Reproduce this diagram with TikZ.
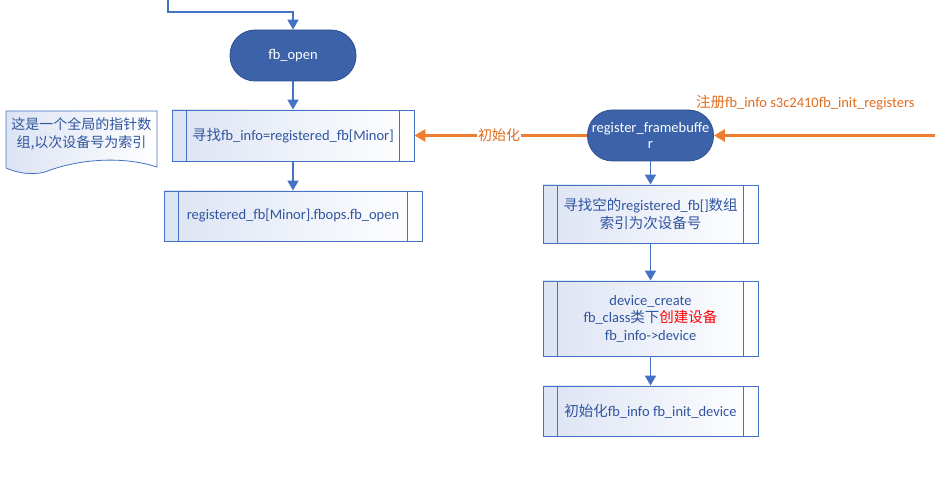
\documentclass[tikz,border=0pt]{standalone}
\usepackage{fontspec}
\setmainfont{Carlito}
\newfontfamily\cjk{Noto Sans CJK SC}
\usetikzlibrary{arrows.meta,calc}
\definecolor{boxblue}{HTML}{4472C4}
\definecolor{termblue}{HTML}{3C62AA}
\definecolor{termedge}{HTML}{2F4F8F}
\definecolor{txtblue}{HTML}{2F55A0}
\definecolor{shadeblue}{HTML}{DCE3F3}
\definecolor{orng}{HTML}{ED7D31}
\definecolor{orngtxt}{HTML}{E06C1C}
\newcommand{\fs}{\fontsize{14.5}{17.5}\selectfont}
\tikzset{
  proc/.style={draw=boxblue, line width=0.9pt, left color=shadeblue, right color=white,
    rectangle, text=txtblue, align=center, inner sep=0pt, font=\fs},
  term/.style={draw=termedge, line width=0.8pt, fill=termblue, rounded corners=25pt,
    text=white, align=center, inner sep=0pt, minimum width=126pt, minimum height=51pt,
    font=\fs},
  flow/.style={draw=boxblue, line width=1.8pt, -{Triangle[width=11pt,length=10pt]}},
  oflow/.style={draw=orng, line width=2.8pt, -{Triangle[width=12pt,length=11pt]}},
  inner/.style={draw=boxblue, line width=0.9pt}
}
\begin{document}
\begin{tikzpicture}[x=1pt,y=-1pt]
\useasboundingbox (0,0) rectangle (935,502);

% terminals
\node[term] (open) at (293,55.5) {fb\_open};
\node[term] (reg) at (650.5,135.5) {register\_framebuffe\\[-1pt]r};

% left column boxes
\node[proc, minimum width=242pt, minimum height=51pt] (find) at (293,135.5)
  {{\cjk 寻找}fb\_info=registered\_fb[Minor]};
\node[proc, minimum width=258pt, minimum height=50pt] (fbopen) at (293,216)
  {registered\_fb[Minor].fbops.fb\_open};

% right column boxes
\node[proc, minimum width=215pt, minimum height=58pt] (empty) at (650.5,214)
  {{\cjk 寻找空的}registered\_fb[]{\cjk 数组}\\[1pt]{\cjk 索引为次设备号}};
\node[proc, minimum width=215pt, minimum height=75pt] (create) at (650.5,318.5)
  {device\_create\\fb\_class{\cjk 类下}{\cjk\color{red}创建设备}\\fb\_info->device};
\node[proc, minimum width=215pt, minimum height=50pt] (init) at (650.5,411)
  {{\cjk 初始化}fb\_info fb\_init\_device};

% inner vertical lines
\foreach \n/\d in {find/15, fbopen/15, empty/15, create/15, init/15}{
  \draw[inner] ([xshift=\d pt]\n.north west) -- ([xshift=\d pt]\n.south west);
  \draw[inner] ([xshift=-\d pt]\n.north east) -- ([xshift=-\d pt]\n.south east);
}

% note (document shape)
\path[left color=shadeblue, right color=white, draw=boxblue, line width=0.8pt]
  (6,111) -- (157,111) -- (157,167)
  .. controls (120,155) and (75,160) .. (45,172)
  .. controls (30,176) and (15,172) .. (6,168) -- cycle;
\node[text=txtblue, align=center, font=\fontsize{14}{18}\selectfont\cjk] (note) at (81.5,134)
  {这是一个全局的指针数\\组,以次设备号为索引};

% top incoming connector
\coordinate (topstart) at (168,0);
\draw[flow] (topstart) |- (293,12) -- (open.north);

% blue flows
\draw[flow] (open) -- (find);
\draw[flow] (find) -- (fbopen);
\draw[flow] (reg) -- (empty);
\draw[flow] (empty) -- (create);
\draw[flow] (create) -- (init);

% orange flows
\coordinate (rightin) at (935,135.5);
\draw[oflow] (rightin) -- (reg.east);
\draw[oflow] (reg.west) -- node[fill=white, inner sep=1pt, text=orngtxt, font=\fontsize{14}{16}\selectfont\cjk, pos=0.51] (initlbl) {初始化} (find.east);
\node[anchor=west, text=orngtxt, font=\fs, inner sep=0pt] (reglbl) at (696,103)
  {{\cjk 注册}fb\_info s3c2410fb\_init\_registers};
\end{tikzpicture}
\end{document}
